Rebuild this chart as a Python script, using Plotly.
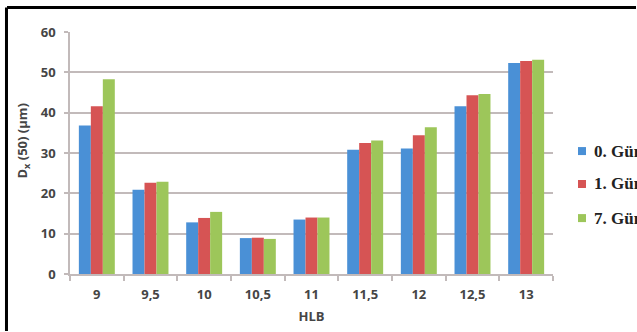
import plotly.graph_objects as go

# HLB values on the category axis
hlb = ["9", "9,5", "10", "10,5", "11", "11,5", "12", "12,5", "13"]

# Dx(50) particle size (µm) per storage day
day0 = [36.8, 20.9, 12.8, 8.9, 13.5, 30.8, 31.1, 41.6, 52.3]
day1 = [41.6, 22.6, 13.9, 9.0, 14.0, 32.5, 34.4, 44.3, 52.8]
day7 = [48.3, 22.9, 15.4, 8.7, 14.0, 33.1, 36.4, 44.6, 53.1]

series_names = ["0. Gün", "1. Gün", "7. Gün"]
series_colors = ["#4A90D6", "#D65454", "#9DC65A"]
series_values = [day0, day1, day7]

y_ticks = [0, 10, 20, 30, 40, 50, 60]

axis_font = dict(family="Open Sans", size=13, color="#454545")
grid_col = "#C2BABA"

fig = go.Figure()
for name, col, vals in zip(series_names, series_colors, series_values):
    fig.add_trace(go.Bar(
        x=hlb, y=vals, name=name,
        marker=dict(color=col, line=dict(width=0)),
        showlegend=False,
    ))

# Legend drawn as coloured squares with serif labels to the right of the plot
legend_y = [0.508, 0.372, 0.231]
shapes = []
annotations = []
for name, col, ly in zip(series_names, series_colors, legend_y):
    shapes.append(dict(
        type="rect", xref="paper", yref="paper",
        xsizemode="pixel", ysizemode="pixel",
        xanchor=1.060, yanchor=ly,
        x0=-4, x1=4, y0=-4, y1=4,
        fillcolor=col, line=dict(width=0),
    ))
    annotations.append(dict(
        text="<b>" + name + "</b>", xref="paper", yref="paper",
        x=1.081, y=ly, xanchor="left", yanchor="middle",
        showarrow=False,
        font=dict(family="Liberation Serif", size=17, color="#222222"),
    ))

# Outer frame: left and top edges drawn as plain (headless) annotation lines
frame_left = -0.1315
frame_top = 1.1012
annotations.append(dict(
    text="", xref="paper", yref="paper", x=frame_left, y=-0.24,
    showarrow=True, arrowhead=0, arrowwidth=3, arrowcolor="black",
    axref="pixel", ayref="pixel", ax=0, ay=-326, standoff=0, startstandoff=0,
))
annotations.append(dict(
    text="", xref="paper", yref="paper", x=1.175, y=frame_top,
    showarrow=True, arrowhead=0, arrowwidth=3, arrowcolor="black",
    axref="pixel", ayref="pixel", ax=-632, ay=0, standoff=0, startstandoff=0,
))

# Y axis title
annotations.append(dict(
    text="<b>D<sub>x</sub> (50) (µm)</b>", xref="paper", yref="paper",
    x=-0.0973, y=0.5475, xanchor="center", yanchor="middle",
    textangle=-90, showarrow=False, font=axis_font,
))

fig.update_layout(
    width=637, height=332,
    margin=dict(l=70, r=84, t=32, b=58, autoexpand=False),
    paper_bgcolor="white", plot_bgcolor="white",
    barmode="group", bargap=0.33, bargroupgap=0,
    shapes=shapes, annotations=annotations,
    showlegend=False,
)

fig.update_xaxes(
    type="category",
    showline=True, linecolor=grid_col, linewidth=1.5,
    ticks="outside", tickson="boundaries", ticklen=5, tickcolor=grid_col, tickwidth=1.5,
    tickfont=axis_font, ticklabelstandoff=8,
    tickvals=hlb, ticktext=["<b>%s</b>" % h for h in hlb],
    title=dict(text="<b>HLB</b>", font=axis_font, standoff=10),
    showgrid=False,
)

fig.update_yaxes(
    range=[0, 60], tickvals=y_ticks,
    ticktext=["<b>%d</b>" % v for v in y_ticks],
    showgrid=True, gridcolor=grid_col, gridwidth=1.5,
    showline=True, linecolor=grid_col, linewidth=1.5,
    ticks="outside", ticklen=4, tickcolor=grid_col, tickwidth=1.5,
    tickfont=axis_font, ticklabelstandoff=6,
    zeroline=False,
)

fig.write_html("out.html")
